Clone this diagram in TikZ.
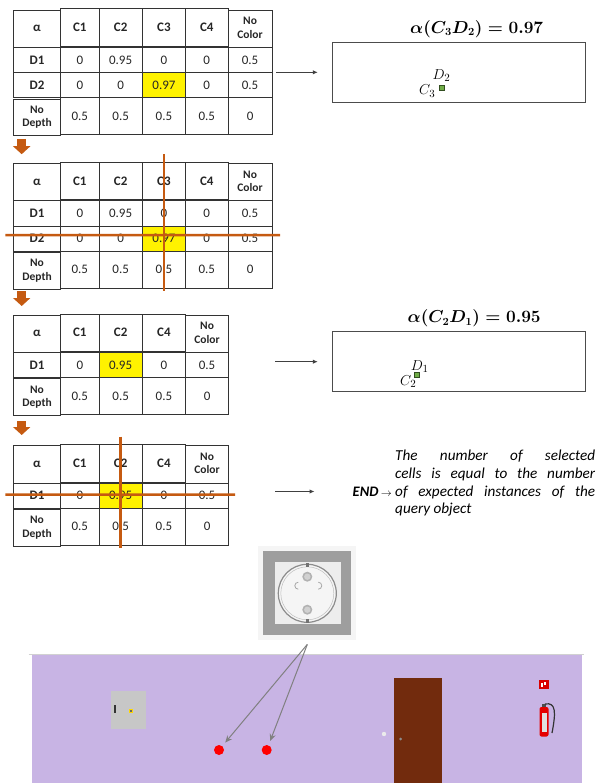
\documentclass[tikz,border=0pt]{standalone}
\usepackage{amsmath,amssymb}
\usepackage{fontspec}
\setmainfont{Carlito}
\usetikzlibrary{arrows.meta, positioning, calc, matrix}
\definecolor{BurntOrange}{HTML}{C55A11}
\definecolor{Lavender}{HTML}{C8B4E4}
\definecolor{DoorBrown}{HTML}{722B0D}
\definecolor{LeafGreen}{HTML}{70AD47}
\newcommand{\twolines}[2]{\begin{tabular}{@{}c@{}}#1\\#2\end{tabular}}

\begin{document}
\begin{tikzpicture}[x=1pt, y=-1pt,
  scoretab/.style={matrix of nodes, anchor=north west, inner sep=0pt,
    column sep=-0.8pt, row sep=-0.8pt,
    nodes={draw=black!80, line width=0.8pt, inner sep=0pt, minimum height=25.1pt,
      text=black!85, font=\fontsize{13}{15}\selectfont},
    row 1/.style={nodes={minimum height=37.3pt, font=\fontsize{13}{15}\selectfont\bfseries}},
    column 1/.style={nodes={minimum width=47.5pt, font=\fontsize{13}{15}\selectfont\bfseries}},
    column 2/.style={nodes={minimum width=38.1pt}},
    column 3/.style={nodes={minimum width=43.5pt}},
    column 4/.style={nodes={minimum width=43.1pt}}},
  sixcol/.style={column 5/.style={nodes={minimum width=42.5pt}},
    column 6/.style={nodes={minimum width=44.1pt}},
    row 4/.style={nodes={minimum height=36.8pt}}},
  fivecol/.style={column 5/.style={nodes={minimum width=43.1pt}},
    row 3/.style={nodes={minimum height=36.8pt}}},
  hdr2/.style={font=\fontsize{11.5}{13.3}\selectfont\bfseries},
  pick/.style={fill=yellow},
  drop/.style={BurntOrange, line width=9pt, -{Triangle[length=8pt, width=17pt]}},
  cut/.style={BurntOrange, line width=2.5pt},
  pointer/.style={draw=black!75, line width=1.1pt, -{Latex[length=5pt, width=4.5pt]}},
  viewbox/.style={draw=black!70, line width=0.8pt, minimum width=253pt, minimum height=60pt, inner sep=0pt},
  headline/.style={inner sep=0pt, font=\fontsize{16}{19}\selectfont},
  spot/.style={draw=LeafGreen!45!black, fill=LeafGreen, line width=0.5pt, minimum size=5pt, inner sep=0pt},
  lbl/.style={inner sep=0pt, font=\fontsize{15}{17}\selectfont},
  plug/.style={circle, fill=red, minimum size=10pt, inner sep=0pt},
  hint/.style={draw=black!50, line width=1pt, -{Stealth[length=7pt, width=6pt]}, shorten >=4.5pt}]
  \useasboundingbox (0,0) rectangle (598,783);

  \matrix (t1) [scoretab, sixcol] at (12.7,8.3) {
    α & C1 & C2 & C3 & C4 & |[hdr2]| \twolines{No}{Color} \\
    D1 & 0 & 0.95 & 0 & 0 & 0.5 \\
    D2 & 0 & 0 & |[pick]| 0.97 & 0 & 0.5 \\
    |[hdr2]| \twolines{No}{Depth} & 0.5 & 0.5 & 0.5 & 0.5 & 0 \\
  };
  \matrix (t2) [scoretab, sixcol] at (12.7,161.7) {
    α & C1 & C2 & C3 & C4 & |[hdr2]| \twolines{No}{Color} \\
    D1 & 0 & 0.95 & 0 & 0 & 0.5 \\
    D2 & 0 & 0 & |[pick]| 0.97 & 0 & 0.5 \\
    |[hdr2]| \twolines{No}{Depth} & 0.5 & 0.5 & 0.5 & 0.5 & 0 \\
  };
  \matrix (t3) [scoretab, fivecol] at (12.7,313.3) {
    α & C1 & C2 & C4 & |[hdr2]| \twolines{No}{Color} \\
    D1 & 0 & |[pick]| 0.95 & 0 & 0.5 \\
    |[hdr2]| \twolines{No}{Depth} & 0.5 & 0.5 & 0.5 & 0 \\
  };
  \matrix (t4) [scoretab, fivecol] at (12.7,444) {
    α & C1 & C2 & C4 & |[hdr2]| \twolines{No}{Color} \\
    D1 & 0 & |[pick]| 0.95 & 0 & 0.5 \\
    |[hdr2]| \twolines{No}{Depth} & 0.5 & 0.5 & 0.5 & 0 \\
  };

  \draw[drop] ([xshift=9pt,yshift=-2.5pt]t1.south west) -- ([xshift=9pt,yshift=7.5pt]t2.north west);
  \draw[drop] ([xshift=9pt,yshift=-1.6pt]t2.south west) -- ([xshift=9pt,yshift=7.3pt]t3.north west);
  \draw[drop] ([xshift=9pt,yshift=-5pt]t3.south west) -- ([xshift=9pt,yshift=9pt]t4.north west);

  \draw[cut] ([yshift=7.5pt]t2-1-4.north) -- ([yshift=-2.5pt]t2-4-4.south);
  \draw[cut] ([xshift=-7.5pt,yshift=3.5pt]t2-3-1.west) -- ([xshift=7.5pt,yshift=3.5pt]t2-3-6.east);
  \draw[cut] ([yshift=7.5pt]t4-1-3.north) -- ([yshift=-2.5pt]t4-3-3.south);
  \draw[cut] ([xshift=-7.5pt,yshift=1pt]t4-2-1.west) -- ([xshift=6pt,yshift=1pt]t4-2-5.east);

  \node (view1) [viewbox] at (459.2,72.3) {};
  \node (alpha1) [headline, above=4pt of view1, xshift=17.5pt] {$\boldsymbol{\alpha(C_3D_2)=0.97}$};
  \node (hit1) [spot] at (441.8,88.2) {};
  \node (c3) [lbl, anchor=base west] at (419,95) {$C_3$};
  \node (d2) [lbl, anchor=base west] at (432.5,79.3) {$D_2$};

  \node (view2) [viewbox] at (459.2,361.7) {};
  \node (alpha2) [headline, above=4pt of view2, xshift=15pt] {$\boldsymbol{\alpha(C_2D_1)=0.95}$};
  \node (hit2) [spot] at (416.5,375) {};
  \node (c2) [lbl, anchor=base west] at (400,385) {$C_2$};
  \node (d1) [lbl, anchor=base west] at (410.7,370) {$D_1$};

  \node (stop) [anchor=east, inner sep=0pt, font=\fontsize{14.5}{17}\selectfont\bfseries\itshape] at (392,491.5)
    {END\,{\fontsize{11}{11}\selectfont$\rightarrow$}};
  \node (note) [anchor=west, text width=200pt, align=justify, inner sep=0pt,
    font=\fontsize{15.2}{17.7}\selectfont\itshape] at (395,483.4)
    {The number of selected\linebreak cells is equal to the number\linebreak of expected instances of the\linebreak query object};

  \draw[pointer, shorten <=3.5pt, shorten >=14.5pt] (t1.east |- view1.west) -- (view1.west);
  \draw[pointer, shorten <=46pt, shorten >=14.5pt] (t3.east |- view2.west) -- (view2.west);
  \draw[pointer, shorten <=46pt, shorten >=38pt] (t4.east |- stop.west) -- (stop.west);

  % socket
  \fill[black!4] (258,546) rectangle (356,640);
  \node (socket) [fill=black!38, minimum width=88pt, minimum height=84pt, inner sep=0pt] at (307.3,592.7) {};
  \begin{scope}[shift={(socket.center)}]
    \fill[black!7] (-32,-31) rectangle (34,31);
    \draw[black!45, line width=1.2pt, fill=black!4] (0,0.6) circle (29);
    \draw[black!25, line width=0.5pt] (0,0.6) circle (26.5);
    \fill[black!30] (0,-16) circle (5);
    \fill[black!30] (0,17) circle (5);
    \fill[black!18] (0,-16) circle (3.2);
    \fill[black!18] (0,17) circle (3.2);
    \draw[black!35, line width=0.8pt] (-9,-3.5) arc (90:270:3.5);
    \draw[black!35, line width=0.8pt] (11,-3.5) arc (90:-90:3.5);
    \fill[black!55] (-1.5,-29.5) rectangle (1.5,-26);
    \fill[black!55] (-1.5,26.5) rectangle (1.5,30);
  \end{scope}

  % room wall
  \fill[Lavender] (31.7,655) rectangle (582,783);
  \draw[black!18, line width=1pt] (28.6,654.5) -- (584,654.5);
  \fill[black!22] (111,690.7) rectangle (146,729);
  \fill[black!80] (114.3,705) rectangle (116,713);
  \fill[yellow!75!orange] (128.8,708.8) rectangle (132.8,712.8);
  \fill[black!60] (130,710) rectangle (131.5,711.5);
  \fill[white!92!black] (384,734) circle (2.2);
  \fill[DoorBrown] (394.3,678.3) rectangle (442.3,783);
  \fill[black!45] (400.7,739) circle (1.5);
  \fill[red!85!black] (539,680) rectangle (549,689);
  \fill[white] (541.3,683) rectangle (542.5,687);
  \fill[white] (544,682) rectangle (546.2,685);
  \fill[black!70] (542,703.5) rectangle (546,707);
  \draw[black!80, line width=1.2pt] (545,704) .. controls (556,702) and (556,712) .. (552,733);
  \fill[red!90!black, rounded corners=2pt] (539.5,707) rectangle (548.5,736.5);
  \fill[white!88!black] (542.3,713) rectangle (546.5,731.5);

  \node (plugA) [plug] at (219,750) {};
  \node (plugB) [plug] at (266.7,750) {};
  \coordinate (fan) at ([yshift=-9.5pt]socket.south);
  \draw[hint] (fan) -- (plugA);
  \draw[hint] (fan) -- (plugB);
\end{tikzpicture}
\end{document}
